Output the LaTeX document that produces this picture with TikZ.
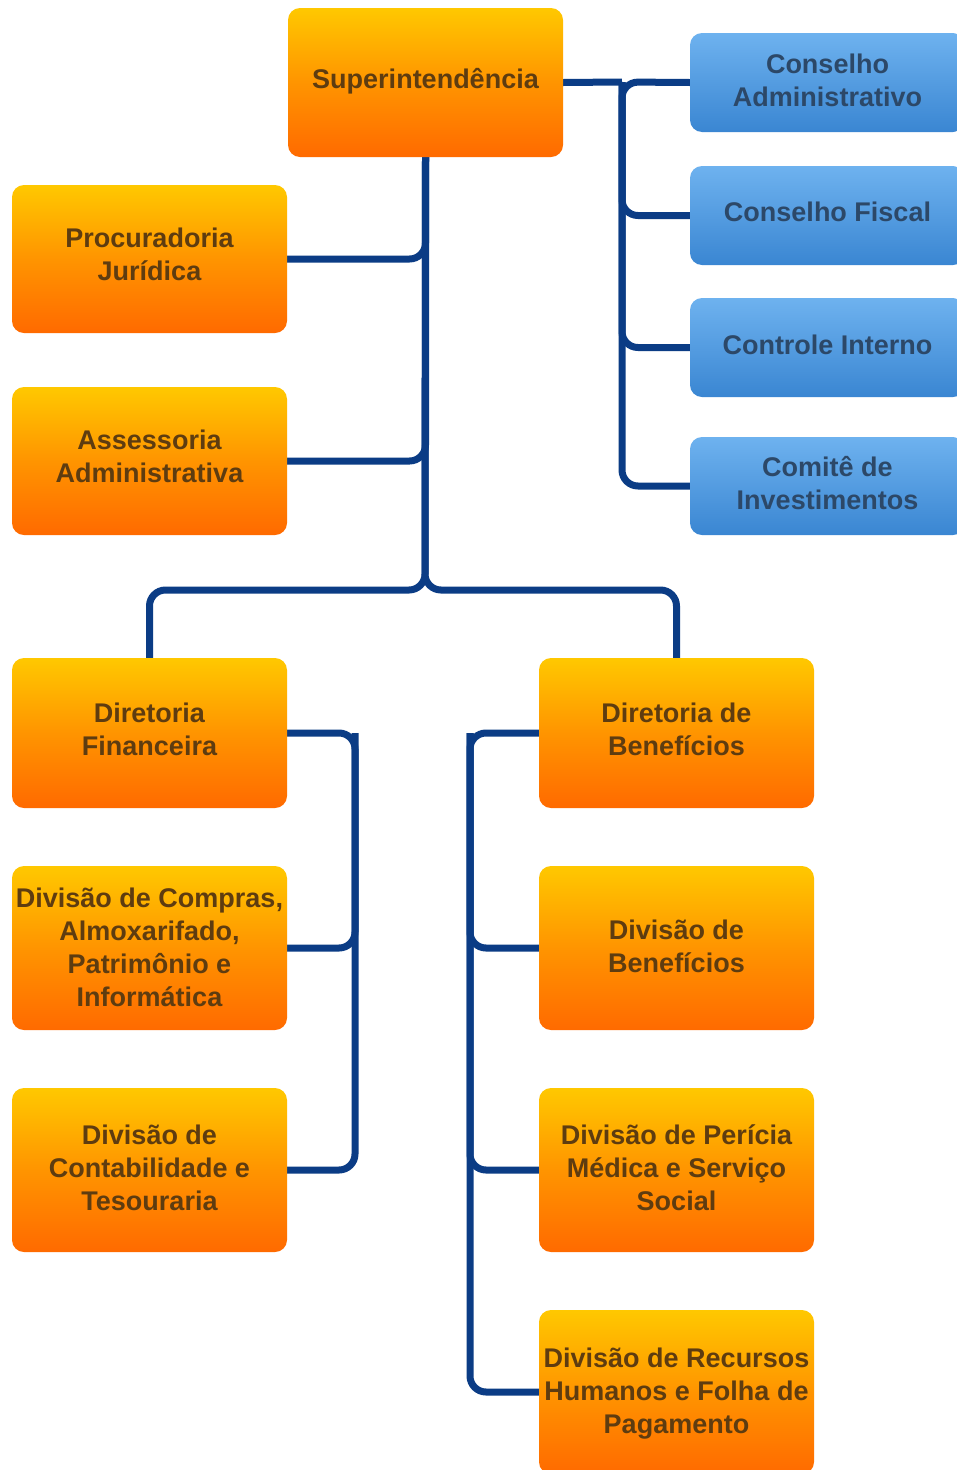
\documentclass[tikz,border=0pt]{standalone}
\usepackage{fontspec}
\setmainfont{Liberation Sans}
\usetikzlibrary{backgrounds}
\definecolor{ortop}{HTML}{FFC800}
\definecolor{orbot}{HTML}{FF6A00}
\definecolor{bltop}{HTML}{6EB2EF}
\definecolor{blbot}{HTML}{3A86D2}
\definecolor{ortext}{HTML}{5E3C10}
\definecolor{bltext}{HTML}{2C4868}
\definecolor{navy}{HTML}{0B3C85}
\tikzset{
  orbox/.style={minimum width=275pt, inner sep=0pt, rounded corners=12pt,
    top color=ortop, bottom color=orbot, middle color=ortop!45!orbot},
  blbox/.style={minimum width=275pt, minimum height=99pt, inner sep=0pt, rounded corners=12pt,
    top color=bltop, bottom color=blbot},
  ortxt/.style={text=ortext, inner sep=0pt, align=center, font=\fontsize{27}{33}\selectfont\bfseries},
  bltxt/.style={text=bltext, inner sep=0pt, align=center, font=\fontsize{27}{33}\selectfont\bfseries},
  conn/.style={draw=navy, line width=7pt, rounded corners=16pt}
}
\begin{document}
\begin{tikzpicture}[x=1pt,y=-1pt]
\clip (0,0) rectangle (957,1470);
\coordinate (tr) at (622,82);
\coordinate (hub) at (425,590);
\coordinate (fr) at (355,733);
\coordinate (br) at (470,733);
\node[orbox, minimum height=149pt] (sup) at (425.5,82.5) {};
\node[orbox, minimum height=148pt] (pj) at (149.5,259) {};
\node[orbox, minimum height=148pt] (aa) at (149.5,461) {};
\node[orbox, minimum height=150pt] (df) at (149.5,733) {};
\node[orbox, minimum height=164pt] (dcomp) at (149.5,948) {};
\node[orbox, minimum height=164pt] (dcont) at (149.5,1170) {};
\node[orbox, minimum height=150pt] (db) at (676.5,733) {};
\node[orbox, minimum height=164pt] (divb) at (676.5,948) {};
\node[orbox, minimum height=164pt] (per) at (676.5,1170) {};
\node[orbox, minimum height=164pt] (rh) at (676.5,1392) {};
\node[blbox] (ca) at (827.5,82.5) {};
\node[blbox] (cf) at (827.5,215.5) {};
\node[blbox] (ci) at (827.5,347.5) {};
\node[blbox, minimum height=98pt] (com) at (827.5,486) {};
% texts
\node[ortxt] (sup-t) at ([yshift=1pt]sup.center) {Superintendência};
\node[ortxt] (pj-t) at ([yshift=5pt]pj.center) {Procuradoria\\Jurídica};
\node[ortxt] (aa-t) at ([yshift=5pt]aa.center) {Assessoria\\Administrativa};
\node[ortxt] (df-t) at ([yshift=4pt]df.center) {Diretoria\\Financeira};
\node[ortxt] (dcomp-t) at ([yshift=1pt]dcomp.center) {Divisão de Compras,\\Almoxarifado,\\Patrimônio e\\Informática};
\node[ortxt] (dcont-t) at ([yshift=2pt]dcont.center) {Divisão de\\Contabilidade e\\Tesouraria};
\node[ortxt] (db-t) at ([yshift=4pt]db.center) {Diretoria de\\Benefícios};
\node[ortxt] (divb-t) at ([yshift=2pt]divb.center) {Divisão de\\Benefícios};
\node[ortxt] (per-t) at ([yshift=2pt]per.center) {Divisão de Perícia\\Médica e Serviço\\Social};
\node[ortxt] (rh-t) at ([yshift=-2pt]rh.center) {Divisão de Recursos\\Humanos e Folha de\\Pagamento};
\node[bltxt] (ca-t) at ([yshift=2pt]ca.center) {Conselho\\Administrativo};
\node[bltxt] (cf-t) at ([yshift=4pt]cf.center) {Conselho Fiscal};
\node[bltxt] (ci-t) at ([yshift=3pt]ci.center) {Controle Interno};
\node[bltxt] (com-t) at ([yshift=3pt]com.center) {Comitê de\\Investimentos};
\begin{scope}[on background layer]
\fill[white] (0,0) rectangle (957,1470);
\draw[conn] (sup.east) -- (tr);
\draw[conn] (ca.west) -- (tr) |- (com.west);
\draw[conn] (cf.west) -| (tr);
\draw[conn] (ci.west) -| (tr);
\draw[conn] (sup.south) -- (hub) -| (df.north);
\draw[conn] (sup.south) -- (hub) -| (db.north);
\draw[conn] (pj.east) -| (sup.south);
\draw[conn] (aa.east) -| (sup.south);
\draw[conn] (df.east) -- (fr) |- (dcont.east);
\draw[conn] (dcomp.east) -| (fr);
\draw[conn] (db.west) -- (br) |- (rh.west);
\draw[conn] (divb.west) -| (br);
\draw[conn] (per.west) -| (br);
\end{scope}
\end{tikzpicture}
\end{document}
